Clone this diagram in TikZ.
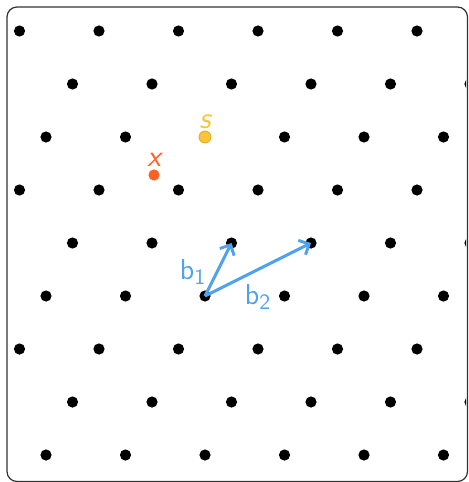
\documentclass[tikz,border=0pt]{standalone}
\usepackage{tikz}
\usetikzlibrary{arrows.meta}
\definecolor{Frame}{HTML}{333333}
\definecolor{Sky}{HTML}{4FA3EE}
\definecolor{Sun}{HTML}{F8C537}
\definecolor{SunEdge}{HTML}{E3A91F}
\definecolor{Flame}{HTML}{FB6224}

\begin{document}
\begin{tikzpicture}[x=0.5pt,y=-0.5pt,
        dot/.style={circle,fill=black,inner sep=0pt,minimum size=5.6pt},
        vec/.style={draw=Sky,line width=1.5pt,-{Straight Barb[length=4pt,width=8pt]}},
        lab/.style={font=\sffamily\fontsize{15}{18}\selectfont}]
        \useasboundingbox (0,0) rectangle (468,482);
        \draw[Frame,line width=0.6pt,rounded corners=5pt] (7,7) rectangle (467.5,481.5);
        % lattice rows
        \begin{scope}
          \clip[rounded corners=5pt] (7,7) rectangle (466,481);
          \foreach \r in {0,...,8} {
            \pgfmathsetmacro{\xo}{mod(205+26.5*(5-\r),79.5)}
            \pgfmathsetmacro{\yo}{31+53*\r}
            \foreach \c in {0,...,6}
              \node[dot] (p-\r-\c) at ({\xo+79.5*\c},\yo) {};
          }
        \end{scope}
        % target and point
        \node[dot,fill=Sun,draw=SunEdge,line width=0.4pt,minimum size=6pt] (s) at (p-2-2) {};
        \node[lab,text=Sun,font=\sffamily\itshape\fontsize{15}{18}\selectfont,above=-2.5pt] at (s.north) {s};
        \node[dot,fill=Flame] (x) at (154,175) {};
        \node[lab,text=Flame,font=\sffamily\itshape\fontsize{15}{18}\selectfont,above=-2.5pt] at (x.north) {x};
        % basis
        \draw[vec] (p-5-2.center) -- (p-4-2.center);
        \draw[vec] (p-5-2.center) -- (p-4-3.center);
        \node[lab,text=Sky] (b1) at (193,272) {$\mathsf{b}_{\mathsf{1}}$};
        \node[lab,text=Sky] (b2) at (258,297) {$\mathsf{b}_{\mathsf{2}}$};
      \end{tikzpicture}
\end{document}
